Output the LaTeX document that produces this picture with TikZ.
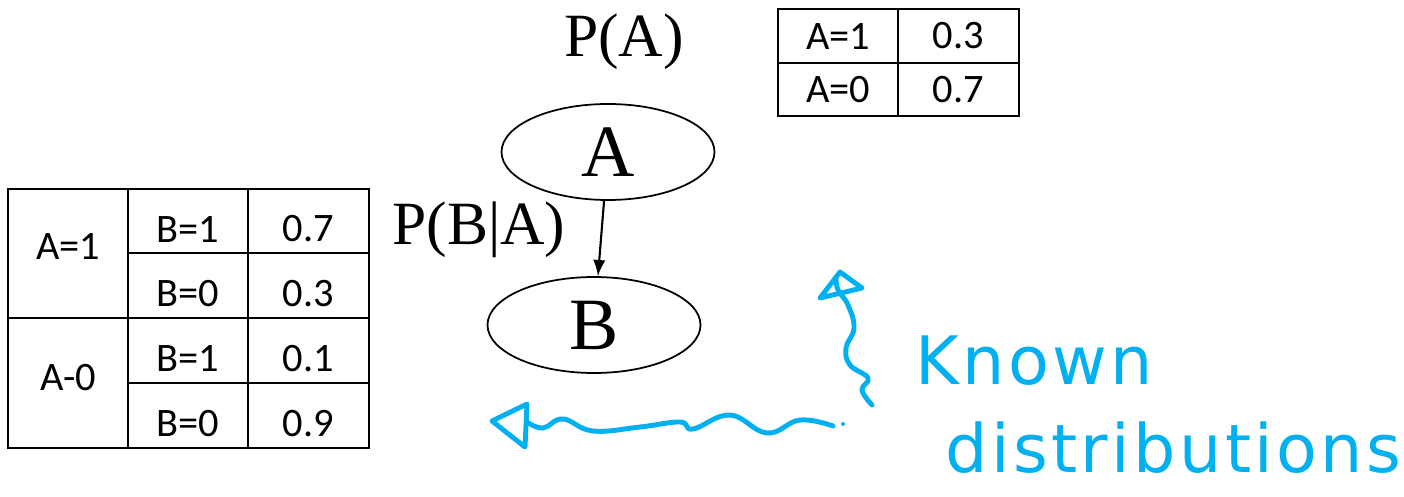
\documentclass[tikz,border=0pt]{standalone}
\usepackage{fontspec}
\setmainfont{Carlito}
\newfontfamily\timesfont{Liberation Serif}
\newfontfamily\handfont[LetterSpace=5]{DejaVu Sans}
\usetikzlibrary{shapes.geometric}
\definecolor{inkblue}{RGB}{0,176,240}

\begin{document}
\begin{tikzpicture}[font=\fontsize{11.5}{13}\selectfont,
  cell/.style={line width=0.6pt},
  var/.style={draw, ellipse, line width=0.5pt, minimum width=2.13cm, minimum height=0.96cm, inner sep=0pt, font=\fontsize{21}{24}\timesfont},
  prob/.style={anchor=base, inner sep=0pt, font=\fontsize{17.5}{20}\timesfont},
  ink/.style={inkblue, line width=1.4pt, line cap=round, line join=round},
  hand/.style={anchor=base west, inner sep=0pt, text=inkblue, font=\fontsize{19}{22}\handfont}]

\useasboundingbox (0,0) rectangle (14.04,-4.97);

\node[prob] (pa) at (6.24,-0.57) {P(A)};
\node[prob] (pba) at (4.79,-2.45) {P(B|A)};

\node[var] (A) at (6.08,-1.52) {A};
\node[var] (B) at (5.94,-3.25) {B};
\draw [>=latex, ->, line width=0.6pt] (A) -- (B);

\draw [cell] (7.78,-0.09) rectangle (8.98,-0.63) node[pos=.5] (a1) {A=1};
\draw [cell] (8.98,-0.09) rectangle (10.19,-0.63) node[pos=.5] (pa1) {0.3};
\draw [cell] (7.78,-0.63) rectangle (8.98,-1.16) node[pos=.5] (a0) {A=0};
\draw [cell] (8.98,-0.63) rectangle (10.19,-1.16) node[pos=.5] (pa0) {0.7};

\draw [cell] (0.08,-1.89) rectangle (1.28,-3.18) node[pos=.5, yshift=0.07cm] (ca1) {A=1};
\draw [cell] (0.08,-3.18) rectangle (1.28,-4.48) node[pos=.5, yshift=0.05cm] (ca0) {A-0};

\draw [cell] (1.28,-1.89) rectangle (2.48,-2.53) node[pos=.5, yshift=-0.08cm] (b11) {B=1};
\draw [cell] (2.48,-1.89) rectangle (3.69,-2.53) node[pos=.5, yshift=-0.08cm] (p11) {0.7};
\draw [cell] (1.28,-2.53) rectangle (2.48,-3.18) node[pos=.5, yshift=-0.08cm] (b10) {B=0};
\draw [cell] (2.48,-2.53) rectangle (3.69,-3.18) node[pos=.5, yshift=-0.08cm] (p10) {0.3};
\draw [cell] (1.28,-3.18) rectangle (2.48,-3.83) node[pos=.5, yshift=-0.08cm] (b01) {B=1};
\draw [cell] (2.48,-3.18) rectangle (3.69,-3.83) node[pos=.5, yshift=-0.08cm] (p01) {0.1};
\draw [cell] (1.28,-3.83) rectangle (2.48,-4.48) node[pos=.5, yshift=-0.08cm] (b00) {B=0};
\draw [cell] (2.48,-3.83) rectangle (3.69,-4.48) node[pos=.5, yshift=-0.08cm] (p00) {0.9};

% pen strokes
\draw [ink] plot[smooth, tension=0.7] coordinates {(5.27,-4.22) (5.43,-4.28) (5.63,-4.19) (5.93,-4.31) (6.40,-4.27) (6.80,-4.22) (6.93,-4.29) (7.30,-4.15) (7.67,-4.33) (8.00,-4.20) (8.33,-4.26)};
\draw [ink] (5.27,-4.04) -- (4.92,-4.21) -- (5.25,-4.47) -- cycle;
\fill [inkblue] (8.43,-4.24) circle (0.02);

\draw [ink] plot[smooth, tension=0.7] coordinates {(8.72,-4.05) (8.62,-3.90) (8.68,-3.78) (8.50,-3.65) (8.46,-3.48) (8.54,-3.28) (8.48,-3.05) (8.38,-2.90) (8.36,-2.78)};
\draw [ink] (8.20,-2.98) -- (8.40,-2.72) -- (8.62,-2.88) -- cycle;

\node[hand] (kn) at (9.15,-3.84) {Known};
\node[hand] (dist) at (9.45,-4.72) {distributions};

\end{tikzpicture}
\end{document}
